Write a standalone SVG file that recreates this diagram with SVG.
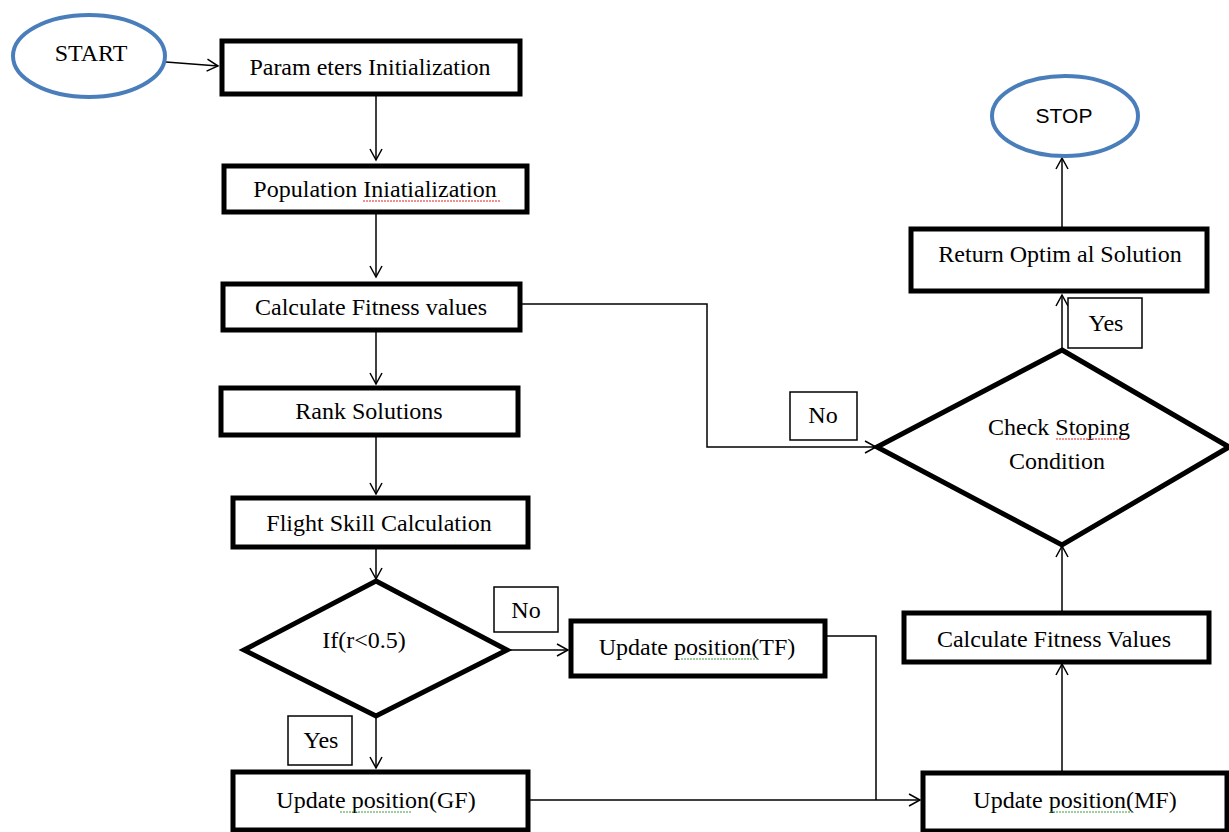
<svg xmlns="http://www.w3.org/2000/svg" width="1229" height="832" viewBox="0 0 1229 832">
<defs>
<marker id="arr" markerWidth="14" markerHeight="14" refX="12" refY="7" orient="auto" markerUnits="userSpaceOnUse">
<path d="M1,1 L12,7 L1,13" fill="none" stroke="#000" stroke-width="1.5"/>
</marker>
<style>
.box{fill:#fff;stroke:#000;stroke-width:5}
.term{fill:#fff;stroke:#4a7ebb;stroke-width:4}
.lbl{fill:#fff;stroke:#000;stroke-width:1.5}
.t{font-family:"Liberation Serif","Times New Roman",serif;font-size:24px;fill:#000;text-anchor:middle}
.ts{font-family:"Liberation Sans",Arial,sans-serif;font-size:21px;fill:#000;text-anchor:middle}
.c{fill:none;stroke:#000;stroke-width:1.5}
.red{fill:none;stroke:#e02020;stroke-width:1;stroke-dasharray:2 1}
.grn{fill:none;stroke:#3a9a3a;stroke-width:1;stroke-dasharray:2 1}
</style>
</defs>
<rect width="1229" height="832" fill="#fff"/>
<g id="connectors">
<path class="c" d="M166,62 L218,66" marker-end="url(#arr)"/>
<path class="c" d="M376,95 L376,160" marker-end="url(#arr)"/>
<path class="c" d="M376,214 L376,277" marker-end="url(#arr)"/>
<path class="c" d="M376,332 L376,384" marker-end="url(#arr)"/>
<path class="c" d="M376,437 L376,494" marker-end="url(#arr)"/>
<path class="c" d="M376,549 L376,579" marker-end="url(#arr)"/>
<path class="c" d="M507,650 L568,650" marker-end="url(#arr)"/>
<path class="c" d="M376,717 L376,768" marker-end="url(#arr)"/>
<path class="c" d="M528,800 L920,800" marker-end="url(#arr)"/>
<path class="c" d="M826,636 L876,636 L876,800"/>
<path class="c" d="M1062,771 L1062,664" marker-end="url(#arr)"/>
<path class="c" d="M1062,611 L1062,546" marker-end="url(#arr)"/>
<path class="c" d="M520,304 L707,304 L707,447 L876,447" marker-end="url(#arr)"/>
<path class="c" d="M1062,350 L1062,295" marker-end="url(#arr)"/>
<path class="c" d="M1062,228 L1062,158" marker-end="url(#arr)"/>
</g>
<g id="start">
<ellipse class="term" cx="89" cy="56" rx="76" ry="41"/>
<text class="t" x="91" y="61">START</text>
</g>
<g id="params">
<rect class="box" x="222" y="41" width="298" height="53"/>
<text class="t" x="370" y="75">Param eters Initialization</text>
</g>
<g id="population">
<rect class="box" x="224" y="166" width="303" height="46"/>
<text class="t" x="375" y="197">Population Iniatialization</text>
<path class="red" d="M363,201 L500,201"/>
</g>
<g id="fitness1">
<rect class="box" x="223" y="284" width="297" height="46"/>
<text class="t" x="371" y="315">Calculate Fitness values</text>
</g>
<g id="rank">
<rect class="box" x="221" y="388" width="297" height="47"/>
<text class="t" x="369" y="419">Rank Solutions</text>
</g>
<g id="flight">
<rect class="box" x="233" y="498" width="295" height="49"/>
<text class="t" x="379" y="531">Flight  Skill  Calculation</text>
</g>
<g id="decision1">
<path class="box" d="M376,581 L507,650 L376,716 L244,650 Z"/>
<text class="t" x="364" y="648">If(r&lt;0.5)</text>
</g>
<g id="no1">
<rect class="lbl" x="494" y="587" width="64" height="45"/>
<text class="t" x="526" y="618">No</text>
</g>
<g id="tf">
<rect class="box" x="571" y="621" width="254" height="55"/>
<text class="t" x="697" y="655">Update position(TF)</text>
<path class="grn" d="M681,659 L759,659"/>
</g>
<g id="yes1">
<rect class="lbl" x="288" y="716" width="64" height="49"/>
<text class="t" x="321" y="748">Yes</text>
</g>
<g id="gf">
<rect class="box" x="233" y="772" width="295" height="58"/>
<text class="t" x="376" y="808">Update position(GF)</text>
<path class="grn" d="M340,812 L412,812"/>
</g>
<g id="mf">
<rect class="box" x="923" y="773" width="304" height="58"/>
<text class="t" x="1075" y="808">Update position(MF)</text>
<path class="grn" d="M1050,812 L1132,812"/>
</g>
<g id="fitness2">
<rect class="box" x="904" y="613" width="305" height="49"/>
<text class="t" x="1054" y="647">Calculate Fitness Values</text>
</g>
<g id="decision2">
<path class="box" d="M1062,350 L1229,447 L1062,545 L877,447 Z"/>
<text class="t" x="1059" y="435">Check Stoping</text>
<text class="t" x="1057" y="469">Condition</text>
<path class="red" d="M1056,439 L1128,439"/>
</g>
<g id="no2">
<rect class="lbl" x="790" y="392" width="67" height="48"/>
<text class="t" x="823" y="423">No</text>
</g>
<g id="yes2">
<rect class="lbl" x="1068" y="298" width="74" height="50"/>
<text class="t" x="1106" y="331">Yes</text>
</g>
<g id="return">
<rect class="box" x="911" y="229" width="296" height="62"/>
<text class="t" x="1060" y="262">Return Optim al Solution</text>
</g>
<g id="stop">
<ellipse class="term" cx="1065" cy="116" rx="73" ry="40"/>
<text class="ts" x="1064" y="123">STOP</text>
</g>
</svg>
